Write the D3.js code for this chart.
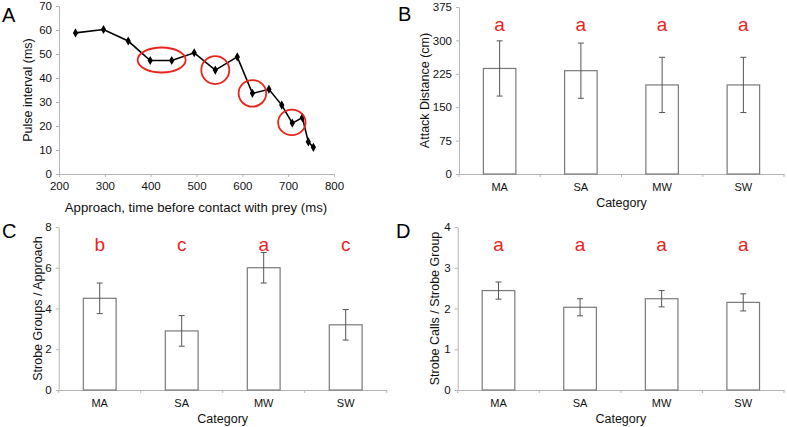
<!DOCTYPE html>
<html><head><meta charset="utf-8">
<script src="https://cdn.jsdelivr.net/npm/d3@7"></script>
<style>
body{margin:0;background:#fff;}
svg{display:block;font-family:"Liberation Sans",Arial,Helvetica,sans-serif;}
</style></head>
<body>
<svg id="chart" width="787" height="427"></svg>
<script>
// ---- Panel A data ----
const approachTime = [236, 297, 351, 399, 446, 495, 541, 589, 622, 658, 686, 709, 731, 744, 755];
const pulseInterval = [58.8, 60.2, 55.4, 47.3, 47.3, 50.5, 43.3, 48.8, 33.6, 35.3, 28.7, 21.2, 23.5, 13.4, 11.1];
const highlightTime = [424, 541, 622, 708];
const highlightInterval = [47.5, 43.3, 33.6, 21.5];
const xTicksA = [200, 300, 400, 500, 600, 700, 800];
const yTicksA = [0, 10, 20, 30, 40, 50, 60, 70];

// ---- Bar panels data ----
const categories = ["MA", "SA", "MW", "SW"];
const attackDistance = [237, 232, 200, 200];
const attackDistanceErr = [62, 62, 62, 62];
const attackLetters = ["a", "a", "a", "a"];
const yTicksB = [0, 75, 150, 225, 300, 375];

const strobeGroups = [4.5, 2.9, 6.0, 3.2];
const strobeGroupsErr = [0.75, 0.75, 0.75, 0.75];
const strobeGroupsLetters = ["b", "c", "a", "c"];
const yTicksC = [0, 2, 4, 6, 8];

const strobeCalls = [2.44, 2.03, 2.24, 2.15];
const strobeCallsErr = [0.21, 0.21, 0.2, 0.21];
const strobeCallsLetters = ["a", "a", "a", "a"];
const yTicksD = [0, 1, 2, 3, 4];

const svg = d3.select("#chart");
const AXIS = "#b5b5b5", TXT = "#111", RED = "#e8251c";

function styleAxis(g) {
  g.select(".domain").attr("stroke", AXIS).attr("stroke-width", 1);
  g.selectAll(".tick line").attr("stroke", AXIS);
  g.selectAll(".tick text").attr("fill", TXT).attr("font-size", 11.5);
}

// ---------- Panel A ----------
(function () {
  const x = d3.scaleLinear().domain([200, 800]).range([59, 334]);
  const y = d3.scaleLinear().domain([0, 70]).range([174, 6]);
  const g = svg.append("g");
  g.append("g").attr("transform", `translate(0,${y(0)})`)
    .call(d3.axisBottom(x).tickValues(xTicksA).tickSize(3).tickSizeOuter(0).tickPadding(5))
    .call(styleAxis);
  g.append("g").attr("transform", `translate(${x(200)},0)`)
    .call(d3.axisLeft(y).tickValues(yTicksA).tickSize(3).tickSizeOuter(0).tickPadding(4))
    .call(styleAxis);
  const pts = approachTime.map((t, i) => [t, pulseInterval[i]]);
  g.append("path").datum(pts)
    .attr("fill", "none").attr("stroke", "#000").attr("stroke-width", 1.6)
    .attr("d", d3.line().x(d => x(d[0])).y(d => y(d[1])));
  g.selectAll(".pt").data(pts).join("path")
    .attr("d", d3.symbol().type(d3.symbolDiamond).size(24))
    .attr("transform", d => `translate(${x(d[0])},${y(d[1])})`)
    .attr("fill", "#000");
  const radii = [[24, 12.5], [14, 14], [13.8, 13.3], [13.7, 12.8]];
  g.selectAll(".hl").data(highlightTime).join("ellipse")
    .attr("cx", d => x(d)).attr("cy", (d, i) => y(highlightInterval[i]))
    .attr("rx", (d, i) => radii[i][0]).attr("ry", (d, i) => radii[i][1])
    .attr("fill", "none").attr("stroke", RED).attr("stroke-width", 1.8);
  g.append("text").attr("x", 196).attr("y", 212).attr("text-anchor", "middle")
    .attr("font-size", 13.2).attr("fill", TXT).text("Approach, time before contact with prey (ms)");
  g.append("text").attr("transform", "translate(32,90) rotate(-90)").attr("text-anchor", "middle")
    .attr("font-size", 12.5).attr("fill", TXT).text("Pulse interval (ms)");
  g.append("text").attr("x", 2).attr("y", 22).attr("font-size", 20).attr("fill", "#000").text("A");
})();

// ---------- Bar panels ----------
function barPanel(opt) {
  const x = d3.scaleBand().domain(categories).range(opt.xr).paddingInner(0.6).paddingOuter(0.3);
  const y = d3.scaleLinear().domain(opt.yd).range(opt.yr);
  const g = svg.append("g");
  const step = x.step();
  g.append("g").attr("transform", `translate(0,${opt.yr[0]})`)
    .call(d3.axisBottom(x).tickSize(0).tickPadding(9))
    .call(styleAxis)
    .call(a => a.selectAll(".tick text").attr("font-size", 11));
  // boundary tick marks between categories
  g.selectAll(".btick").data(d3.range(categories.length + 1)).join("line")
    .attr("x1", i => opt.xr[0] + i * step).attr("x2", i => opt.xr[0] + i * step)
    .attr("y1", opt.yr[0]).attr("y2", opt.yr[0] + 3).attr("stroke", AXIS);
  g.append("g").attr("transform", `translate(${opt.xr[0]},0)`)
    .call(d3.axisLeft(y).tickValues(opt.ticks).tickFormat(d3.format("d")).tickSize(3).tickSizeOuter(0).tickPadding(4))
    .call(styleAxis);
  g.selectAll(".bar").data(categories).join("rect")
    .attr("x", d => x(d)).attr("width", x.bandwidth())
    .attr("y", (d, i) => y(opt.vals[i])).attr("height", (d, i) => y(0) - y(opt.vals[i]))
    .attr("fill", "#fff").attr("stroke", "#7a7a7a").attr("stroke-width", 1.2);
  const cx = d => x(d) + x.bandwidth() / 2;
  g.selectAll(".err").data(categories).join("line")
    .attr("x1", cx).attr("x2", cx)
    .attr("y1", (d, i) => y(opt.vals[i] + opt.errs[i])).attr("y2", (d, i) => y(opt.vals[i] - opt.errs[i]))
    .attr("stroke", "#555").attr("stroke-width", 1);
  ["+", "-"].forEach(s => {
    g.selectAll(".cap" + (s === "+" ? "u" : "d")).data(categories).join("line")
      .attr("x1", d => cx(d) - 3).attr("x2", d => cx(d) + 3)
      .attr("y1", (d, i) => y(opt.vals[i] + (s === "+" ? 1 : -1) * opt.errs[i]))
      .attr("y2", (d, i) => y(opt.vals[i] + (s === "+" ? 1 : -1) * opt.errs[i]))
      .attr("stroke", "#555").attr("stroke-width", 1);
  });
  g.selectAll(".lett").data(categories).join("text")
    .attr("x", cx).attr("y", opt.yr[1] + 24).attr("text-anchor", "middle")
    .attr("font-size", 19).attr("fill", RED).text((d, i) => opt.letters[i]);
  g.append("text").attr("x", (opt.xr[0] + opt.xr[1]) / 2).attr("y", opt.yr[0] + 33).attr("text-anchor", "middle")
    .attr("font-size", 12.5).attr("fill", TXT).text("Category");
  g.append("text").attr("transform", `translate(${opt.ytx},${(opt.yr[0] + opt.yr[1]) / 2}) rotate(-90)`)
    .attr("text-anchor", "middle").attr("font-size", 12.5).attr("fill", TXT).text(opt.ytitle);
  g.append("text").attr("x", opt.lx).attr("y", opt.ly).attr("font-size", 20).attr("fill", "#000").text(opt.label);
}

barPanel({xr: [459, 784], yr: [174, 7], yd: [0, 375], ticks: yTicksB, vals: attackDistance, errs: attackDistanceErr,
  letters: attackLetters, ytitle: "Attack Distance (cm)", ytx: 429, label: "B", lx: 398, ly: 21});
barPanel({xr: [58.7, 386.7], yr: [390, 227], yd: [0, 8], ticks: yTicksC, vals: strobeGroups, errs: strobeGroupsErr,
  letters: strobeGroupsLetters, ytitle: "Strobe Groups / Approach", ytx: 42, label: "C", lx: 2, ly: 238});
barPanel({xr: [457.7, 784], yr: [390, 227], yd: [0, 4], ticks: yTicksD, vals: strobeCalls, errs: strobeCallsErr,
  letters: strobeCallsLetters, ytitle: "Strobe Calls / Strobe Group", ytx: 439, label: "D", lx: 396, ly: 238});
</script>
</body></html>
